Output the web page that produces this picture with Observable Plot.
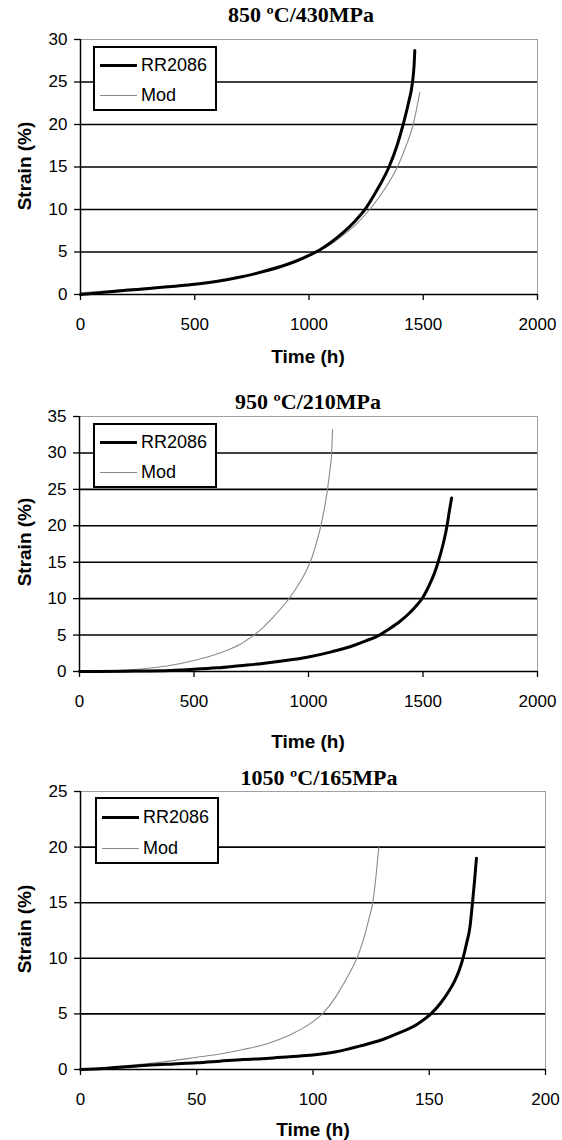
<!DOCTYPE html>
<html><head><meta charset="utf-8">
<script src="https://cdn.jsdelivr.net/npm/d3@7"></script>
<script src="https://cdn.jsdelivr.net/npm/@observablehq/plot@0.6"></script>
<style>
body{margin:0;background:#fff;}
#page{position:relative;width:562px;height:1140px;overflow:hidden;font-family:"Liberation Sans",Arial,sans-serif;color:#000;}
.panel{position:absolute;left:0;width:562px;}
.title{position:absolute;width:300px;margin-left:-150px;text-align:center;line-height:24px;height:24px;font-family:"Liberation Serif","Times New Roman",serif;font-weight:bold;font-size:22px;z-index:3;}
.xlabel{position:absolute;width:200px;margin-left:-100px;text-align:center;line-height:22px;height:22px;font-weight:bold;font-size:19px;}
.ylabel{position:absolute;width:200px;height:22px;line-height:22px;text-align:center;font-weight:bold;font-size:19px;transform:translate(-50%,-50%) rotate(-90deg);z-index:3;}
.legend{position:absolute;box-sizing:border-box;border:2px solid #000;background:#fff;z-index:2;}
.row{position:absolute;left:0;height:20px;line-height:20px;font-size:18px;}
.sample{position:absolute;left:5px;width:37px;}
.lab{position:absolute;left:46px;top:0;white-space:nowrap;}
</style>
</head><body>
<div id="page"></div>
<script>
// ---------- data ----------
// Panel 1: 850 ºC / 430 MPa
const p1RRTime   = [0,100,200,300,400,500,600,700,800,900,950,1000,1050,1100,1150,1200,1250,1300,1350,1385,1412,1435,1453,1460,1463];
const p1RRStrain = [0,0.25,0.5,0.7,0.95,1.2,1.55,2.05,2.7,3.5,4.0,4.6,5.3,6.2,7.3,8.6,10.2,12.4,15,17.5,20,22.5,25,27,28.7];
const p1ModTime   = [0,100,200,300,400,500,600,700,800,900,950,1000,1050,1100,1150,1200,1250,1300,1350,1387,1425,1456,1472,1485];
const p1ModStrain = [0.2,0.4,0.6,0.8,1.0,1.25,1.6,2.05,2.65,3.45,3.95,4.5,5.2,6.0,7.0,8.1,9.5,11.2,13.2,15,17.5,20,22,23.8];
// Panel 2: 950 ºC / 210 MPa
const p2RRTime   = [0,200,400,500,600,700,800,900,1000,1100,1200,1250,1310,1350,1400,1440,1470,1500,1525,1550,1566,1588,1605,1615,1625];
const p2RRStrain = [0,0.05,0.15,0.3,0.5,0.8,1.1,1.5,2.0,2.7,3.6,4.2,5,5.8,6.9,8.0,9.0,10.2,11.7,13.5,15,17.5,20,22,23.8];
const p2ModTime   = [0,100,200,300,400,500,600,650,700,730,762,800,850,900,915,960,985,1007,1022,1033,1054,1070,1083,1093,1101,1105];
const p2ModStrain = [0,0.05,0.2,0.45,0.85,1.5,2.4,3.0,3.7,4.3,5,6.0,7.6,9.4,10,12.1,13.5,15,16.3,17.5,20,22.5,25,27.5,30,33.2];
// Panel 3: 1050 ºC / 165 MPa
const p3RRTime   = [0,10,20,30,40,50,60,70,80,90,100,110,120,130,136,145,150.7,155,158,161,163,164.5,166,167.5,168.6,169.5,170.3];
const p3RRStrain = [0,0.1,0.25,0.4,0.5,0.6,0.75,0.9,1.0,1.15,1.3,1.6,2.1,2.7,3.2,4.1,5,6,6.9,8.0,9.0,10.0,11.3,12.8,15,17,19];
const p3ModTime   = [0,10,20,30,40,50,60,70,80,90,100,104,110,115,118,120,122,124,125.7,127,128.3];
const p3ModStrain = [0,0.15,0.35,0.55,0.8,1.1,1.4,1.8,2.3,3.1,4.3,5,6.6,8.4,9.6,10.6,11.9,13.5,15,17.2,20];

const titles = ["850 ºC/430MPa","950 ºC/210MPa","1050 ºC/165MPa"];
const seriesNames = ["RR2086","Mod"];
const xTicks1 = [0,500,1000,1500,2000];
const xTicks3 = [0,50,100,150,200];
const yTicks1 = [0,5,10,15,20,25,30];
const yTicks2 = [0,5,10,15,20,25,30,35];
const yTicks3 = [0,5,10,15,20,25];
const xLabel = "Time (h)";
const yLabel = "Strain (%)";

// ---------- layout ----------
const layout = [
  {top:0,   h:375, mt:39, mb:81, ml:80, mr:25, titleX:301, titleY:15,  xlY:357,  xlX:308, ylY:166, leg:{x:93,y:46,w:124,h:65,r1:17,r2:47},
   rr:[p1RRTime,p1RRStrain], mod:[p1ModTime,p1ModStrain], xt:xTicks1, yt:yTicks1},
  {top:375, h:390, mt:41, mb:94, ml:79, mr:25, titleX:308, titleY:402, xlY:742,  xlX:308, ylY:542, leg:{x:93,y:423,w:124,h:65,r1:17,r2:47},
   rr:[p2RRTime,p2RRStrain], mod:[p2ModTime,p2ModStrain], xt:xTicks1, yt:yTicks2},
  {top:765, h:375, mt:26, mb:71, ml:80, mr:17, titleX:319, titleY:778, xlY:1130, xlX:313, ylY:929, leg:{x:95,y:797,w:124,h:67,r1:18,r2:49},
   rr:[p3RRTime,p3RRStrain], mod:[p3ModTime,p3ModStrain], xt:xTicks3, yt:yTicks3}
];

const page = document.getElementById("page");
const zip = (t, s) => t.map((v, i) => ({t: v, s: s[i]}));

layout.forEach((L, i) => {
  const rr = zip(L.rr[0], L.rr[1]);
  const mod = zip(L.mod[0], L.mod[1]);
  const yMax = L.yt[L.yt.length - 1];
  const interior = L.yt.filter(v => v > 0 && v < yMax);
  const chart = Plot.plot({
    width: 562, height: L.h,
    marginTop: L.mt, marginBottom: L.mb, marginLeft: L.ml, marginRight: L.mr,
    style: {fontFamily: '"Liberation Sans", Arial, sans-serif', fontSize: "17px", color: "#000", background: "transparent", overflow: "visible"},
    x: {domain: [L.xt[0], L.xt[L.xt.length - 1]]},
    y: {domain: [0, yMax]},
    marks: [
      Plot.frame({stroke: "#a0a0a0", strokeWidth: 1}),
      Plot.ruleY(interior, {stroke: "#000", strokeWidth: 1.6}),
      Plot.line(mod, {x: "t", y: "s", stroke: "#8a8a8a", strokeWidth: 1.1, curve: "monotone-x"}),
      Plot.line(rr, {x: "t", y: "s", stroke: "#000", strokeWidth: 3, curve: "monotone-x"}),
      Plot.ruleX([L.xt[0]], {stroke: "#000", strokeWidth: 1.5}),
      Plot.ruleY([0], {stroke: "#000", strokeWidth: 1.5}),
      Plot.axisX({ticks: L.xt, tickFormat: d => String(d), tickSize: 6, tickPadding: 17, label: null, stroke: "#000", strokeWidth: 1.3, strokeOpacity: 1}),
      Plot.axisY({ticks: L.yt, tickFormat: d => String(d), tickSize: 6, tickPadding: 7, label: null, stroke: "#000", strokeWidth: 1.3, strokeOpacity: 1})
    ]
  });
  const wrap = document.createElement("div");
  wrap.className = "panel";
  wrap.style.top = L.top + "px";
  wrap.appendChild(chart);
  page.appendChild(wrap);

  const t = document.createElement("div");
  t.className = "title"; t.textContent = titles[i];
  t.style.left = L.titleX + "px"; t.style.top = (L.titleY - 12) + "px";
  page.appendChild(t);

  const xl = document.createElement("div");
  xl.className = "xlabel"; xl.textContent = xLabel;
  xl.style.left = L.xlX + "px"; xl.style.top = (L.xlY - 11) + "px";
  page.appendChild(xl);

  const yl = document.createElement("div");
  yl.className = "ylabel"; yl.textContent = yLabel;
  yl.style.left = "25px"; yl.style.top = L.ylY + "px";
  page.appendChild(yl);

  const lg = document.createElement("div");
  lg.className = "legend";
  Object.assign(lg.style, {left: L.leg.x + "px", top: L.leg.y + "px", width: L.leg.w + "px", height: L.leg.h + "px"});
  [[seriesNames[0], "3px solid #000", L.leg.r1], [seriesNames[1], "1px solid #8a8a8a", L.leg.r2]].forEach(([name, border, ry]) => {
    const row = document.createElement("div");
    row.className = "row"; row.style.top = (ry - 10) + "px"; row.style.width = "100%";
    const s = document.createElement("div");
    s.className = "sample"; s.style.borderTop = border;
    s.style.top = (10 - (name === "Mod" ? 0 : 1)) + "px";
    const l = document.createElement("div");
    l.className = "lab"; l.textContent = name;
    row.appendChild(s); row.appendChild(l);
    lg.appendChild(row);
  });
  page.appendChild(lg);
});
</script>
</body></html>
